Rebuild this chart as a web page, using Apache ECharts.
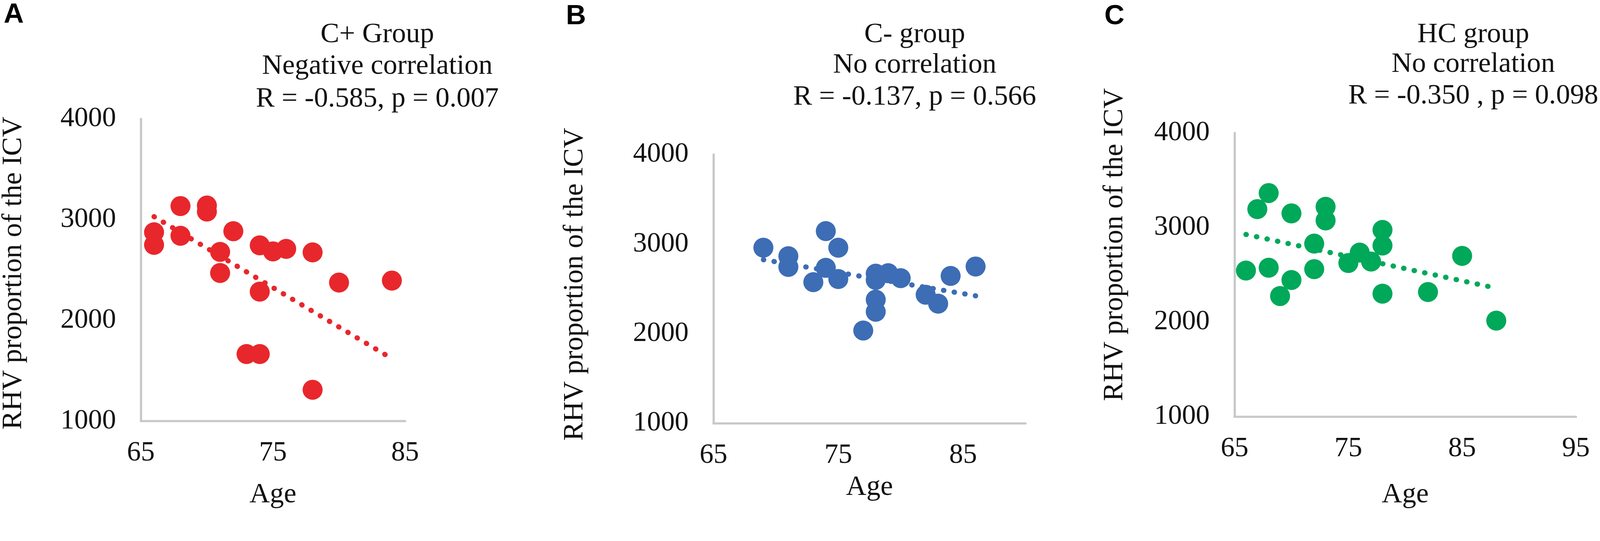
<!DOCTYPE html>
<html>
<head>
<meta charset="utf-8">
<script src="https://cdn.jsdelivr.net/npm/echarts@6/dist/echarts.min.js"></script>
<style>
  html, body { margin: 0; padding: 0; background: #fff; overflow: hidden; }
  #chart { width: 100vw; height: 100vh; }
</style>
</head>
<body>
<div id="chart"></div>
<script>
// ---- Data ----
const ageA = [68, 70, 70, 66, 66, 68, 72, 71, 71, 74, 75, 76, 78, 80, 84, 74, 73, 74, 78];
const rhvA = [3135, 3140, 3080, 2875, 2750, 2840, 2885, 2680, 2470, 2745, 2685, 2710, 2675, 2375, 2395, 2285, 1665, 1665, 1310];
const trendAgeA = [66, 84];
const trendRhvA = [3030, 1620];

const ageB = [69, 71, 71, 74, 75, 74, 73, 75, 77, 78, 78, 78, 78, 79, 80, 82, 83, 84, 86];
const rhvB = [2960, 2865, 2745, 3145, 2960, 2735, 2575, 2610, 2035, 2670, 2600, 2380, 2245, 2675, 2620, 2435, 2335, 2645, 2750];
const trendAgeB = [69, 86];
const trendRhvB = [2826, 2423];

const ageC = [68, 67, 70, 73, 73, 78, 78, 72, 76, 77, 75, 85, 66, 68, 72, 70, 69, 78, 82, 88];
const rhvC = [3365, 3195, 3150, 3220, 3075, 2975, 2810, 2830, 2735, 2640, 2625, 2700, 2545, 2575, 2560, 2445, 2275, 2300, 2318, 2015];
const trendAgeC = [66, 88];
const trendRhvC = [2927, 2359];

const xMax = [85, 90, 95];
const yTicks = [1000, 2000, 3000, 4000];
const panelLetters = ['A', 'B', 'C'];
const titleLines = [
  ['C+ Group', 'Negative correlation', 'R = -0.585, p = 0.007'],
  ['C- group', 'No correlation', 'R = -0.137, p = 0.566'],
  ['HC group', 'No correlation', 'R = -0.350 , p = 0.098']
];
const yName = 'RHV proportion of the ICV';
const xName = 'Age';

const colors = ['#E8272C', '#3D6DB5', '#00A85A'];

// ---- Layout (designed for 4317 x 1385, scaled to the actual viewport) ----
const W = window.innerWidth, H = window.innerHeight;
const s = Math.min(W / 4317, H / 1385);
const px = v => v * s;

const serif = "'Liberation Serif', 'Times New Roman', serif";
const grids = [
  { left: 380, top: 321, width: 713, height: 815 },
  { left: 1925, top: 417, width: 842, height: 725 },
  { left: 3331, top: 359, width: 921, height: 765 }
].map(g => ({ left: px(g.left), top: px(g.top), width: px(g.width), height: px(g.height) }));
const xNameGaps = [161, 135, 173];
const yNamePos = [[37, 737], [1552, 767], [3008, 660]];
const letterPos = [[37, 40], [1554, 45], [3007, 45]];
const titleX = [1018, 2468, 3975];
const titleY = [[94, 179, 268], [94, 176, 263], [94, 174, 259]];

const axisLineStyle = { color: '#C8C8C8', width: px(6) };

function pairs(xs, ys) { return xs.map((x, i) => [x, ys[i]]); }

const scatterData = [pairs(ageA, rhvA), pairs(ageB, rhvB), pairs(ageC, rhvC)];
const trendData = [pairs(trendAgeA, trendRhvA), pairs(trendAgeB, trendRhvB), pairs(trendAgeC, trendRhvC)];

const xAxes = [], yAxes = [], series = [], graphics = [];
for (let i = 0; i < 3; i++) {
  xAxes.push({
    type: 'value', gridIndex: i, min: 65, max: xMax[i], interval: 5,
    axisLine: { show: true, lineStyle: axisLineStyle },
    axisTick: { show: false }, splitLine: { show: false },
    axisLabel: {
      fontSize: px(75), fontFamily: serif, color: '#111', margin: px(50),
      formatter: v => ((v - 65) % 10 === 0 ? String(v) : '')
    },
    name: xName, nameLocation: 'middle', nameGap: px(xNameGaps[i]),
    nameTextStyle: { fontSize: px(76), fontFamily: serif, color: '#111' }
  });
  yAxes.push({
    type: 'value', gridIndex: i, min: yTicks[0], max: yTicks[yTicks.length - 1], interval: 1000,
    axisLine: { show: true, lineStyle: axisLineStyle },
    axisTick: { show: false }, splitLine: { show: false },
    axisLabel: { fontSize: px(75), fontFamily: serif, color: '#111', margin: px(67),
      formatter: v => String(v) }
  });
  series.push({
    type: 'scatter', xAxisIndex: i, yAxisIndex: i, data: scatterData[i],
    symbol: 'circle', symbolSize: px(54), itemStyle: { color: colors[i], opacity: 1 },
    z: 2, animation: false
  });
  series.push({
    type: 'line', xAxisIndex: i, yAxisIndex: i, data: trendData[i],
    showSymbol: false, symbol: 'none', silent: true,
    lineStyle: { color: colors[i], width: px(14), type: [px(1), px(28)], cap: 'round' },
    z: 3, animation: false
  });
  graphics.push({
    type: 'text', x: px(letterPos[i][0]), y: px(letterPos[i][1]),
    style: { text: panelLetters[i], font: "bold " + px(75) + "px 'Liberation Sans', Arial, sans-serif",
      fill: '#000', textAlign: 'center', textVerticalAlign: 'middle' }
  });
  for (let k = 0; k < 3; k++) {
    graphics.push({
      type: 'text', x: px(titleX[i]), y: px(titleY[i][k]),
      style: { text: titleLines[i][k], font: px(76) + "px " + serif,
        fill: '#111', textAlign: 'center', textVerticalAlign: 'middle' }
    });
  }
  graphics.push({
    type: 'text', x: px(yNamePos[i][0]), y: px(yNamePos[i][1]), rotation: Math.PI / 2,
    style: { text: yName, font: px(76) + "px " + serif,
      fill: '#111', textAlign: 'center', textVerticalAlign: 'middle' }
  });
}

const chart = echarts.init(document.getElementById('chart'), null, { renderer: 'canvas' });
chart.setOption({
  backgroundColor: '#ffffff',
  animation: false,
  textStyle: { fontFamily: serif },
  grid: grids,
  xAxis: xAxes,
  yAxis: yAxes,
  series: series,
  graphic: graphics
});
</script>
</body>
</html>
